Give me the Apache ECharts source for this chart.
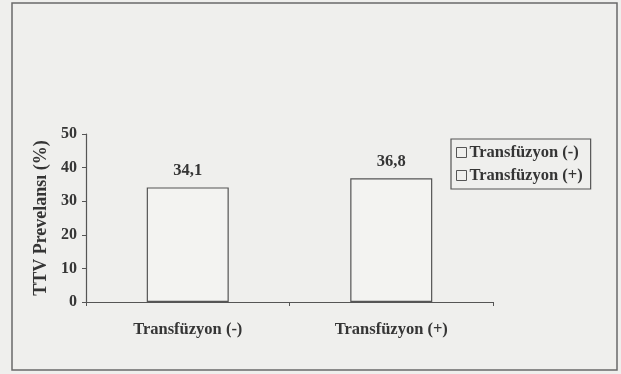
<!DOCTYPE html>
<html>
<head>
<meta charset="utf-8">
<script src="https://cdn.jsdelivr.net/npm/echarts@6/dist/echarts.min.js"></script>
<style>
  html, body { margin: 0; padding: 0; background: #efefed; }
  #chart { width: 621px; height: 374px; }
</style>
</head>
<body>
<div id="chart"></div>
<script>
// Prevalence of TTV by transfusion history
const categories = ['Transfüzyon (-)', 'Transfüzyon (+)'];
const seriesNames = ['Transfüzyon (-)', 'Transfüzyon (+)'];
const noTransfusion = [34.1, null];
const withTransfusion = [null, 36.8];
const yTicks = [0, 10, 20, 30, 40, 50];
const yAxisTitle = 'TTV Prevelansı (%)';

const FONT = '"Liberation Serif", "Times New Roman", serif';
const INK = '#353535';
const LINE = '#555555';

const chart = echarts.init(document.getElementById('chart'), null, { renderer: 'canvas' });

function barSeries(name, values) {
  return {
    name: name,
    type: 'bar',
    data: values,
    barWidth: 82,
    barGap: '-100%',
    itemStyle: { color: '#f3f3f1', borderColor: LINE, borderWidth: 1.2 },
    label: {
      show: true,
      position: 'top',
      distance: 8,
      fontFamily: FONT,
      fontWeight: 'bold',
      fontSize: 16.5,
      color: INK,
      formatter: p => String(p.value).replace('.', ',')
    },
    emphasis: { disabled: true }
  };
}

chart.setOption({
  backgroundColor: '#efefed',
  animation: false,
  graphic: [{
    type: 'rect',
    shape: { x: 12, y: 3, width: 605, height: 367 },
    style: { fill: 'none', stroke: '#6a6a6a', lineWidth: 1.5 },
    silent: true
  }],
  grid: { left: 86, right: 128, top: 134, bottom: 72 },
  legend: {
    data: seriesNames,
    orient: 'vertical',
    left: 451,
    top: 139,
    padding: [5, 8, 5, 5],
    itemGap: 6,
    itemWidth: 10,
    itemHeight: 10,
    icon: 'rect',
    borderColor: LINE,
    borderWidth: 1.2,
    backgroundColor: 'transparent',
    textStyle: { fontFamily: FONT, fontWeight: 'bold', fontSize: 16.5, color: INK, padding: [0, 0, 0, -2] },
    itemStyle: { color: 'transparent', borderColor: LINE, borderWidth: 1 }
  },
  xAxis: {
    type: 'category',
    data: categories,
    axisLine: { lineStyle: { color: LINE, width: 1.2 } },
    axisTick: { show: true, alignWithLabel: false, length: 4, lineStyle: { color: LINE } },
    axisLabel: { margin: 19, fontFamily: FONT, fontWeight: 'bold', fontSize: 16.5, color: INK },
    splitLine: { show: false }
  },
  yAxis: {
    type: 'value',
    min: yTicks[0],
    max: yTicks[yTicks.length - 1],
    interval: yTicks[1] - yTicks[0],
    name: yAxisTitle,
    nameLocation: 'middle',
    nameGap: 34,
    nameTextStyle: { fontFamily: FONT, fontWeight: 'bold', fontSize: 18, color: INK, letterSpacing: 0.5 },
    axisLine: { show: true, lineStyle: { color: LINE, width: 1.2 } },
    axisTick: { show: true, length: 4, lineStyle: { color: LINE } },
    axisLabel: { margin: 9, fontFamily: FONT, fontWeight: 'bold', fontSize: 16, color: INK },
    splitLine: { show: false }
  },
  series: [
    barSeries(seriesNames[0], noTransfusion),
    barSeries(seriesNames[1], withTransfusion)
  ]
});
</script>
</body>
</html>
